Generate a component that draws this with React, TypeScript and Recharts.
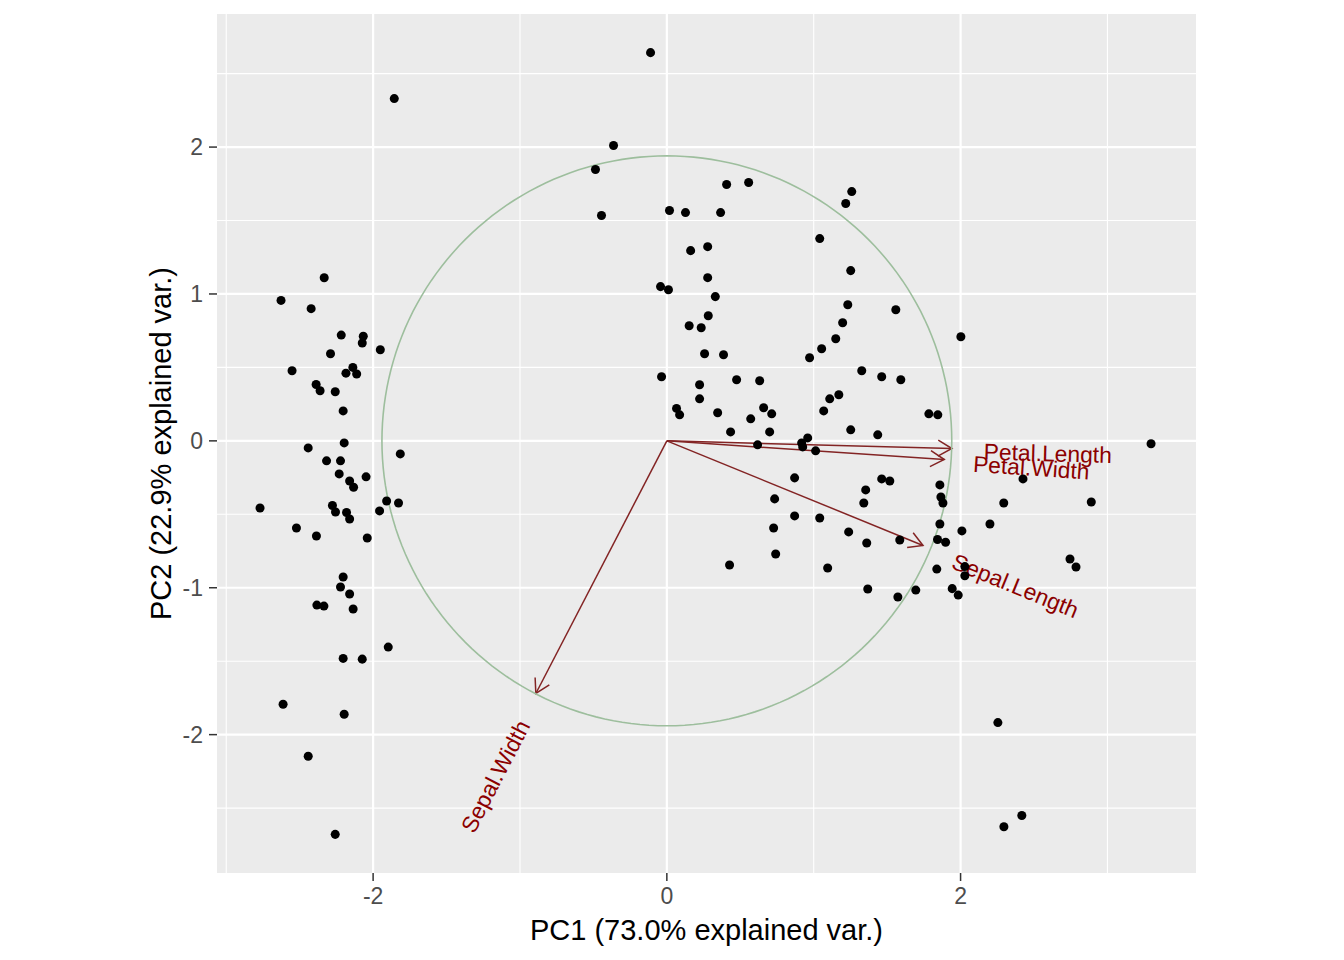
import React from 'react';
import { ScatterChart, Scatter, XAxis, YAxis, CartesianGrid, ReferenceLine } from 'recharts';

// ---- data ----
const PC1 = [
  -1.856, -2.333, -2.627, -2.422, -2.217, -2.067, -2.074, -1.951, -2.29, -2.552,
  -2.138, -2.185, -2.112, -2.388, -2.361, -2.258, -2.204, -2.197, -2.442, -1.815,
  -2.317, -2.222, -2.231, -2.16, -2.133, -2.048, -2.77, -2.277, -2.256, -2.181,
  -2.16, -1.956, -1.908, -1.827, -2.522, -2.386, -2.04, -2.204, -2.222, -2.16,
  -2.383, -2.335, -2.136, -1.897, -2.204, -2.074, -2.613, -2.197, -2.442, -2.258,
  -0.111, -0.363, -0.486, -0.445, 0.018, 0.127, 0.366, 0.407, 0.557, 1.259,
  1.218, 1.041, 1.252, 0.162, 0.278, 0.278, -0.043, 0.011, 0.33, 0.282,
  0.152, 0.234, 1.232, 1.197,
  1.559, 1.15, 1.054, 0.972, 0.257, 0.386, -0.036, 0.223, 0.475, 0.632,
  0.223, 0.066, 0.087, 0.346, 0.571, 0.659, 0.714, 0.434, 0.70, 0.618,
  1.327, 1.463, 1.593, 1.109, 1.171, 1.068, 1.252, 1.436, 1.784, 1.845,
  0.959, 0.918, 0.925, 1.013, 0.87, 0.734, 0.87, 1.041, 0.727, 0.741,
  0.427, 1.095, 1.238, 1.361, 1.586, 1.463, 1.518, 1.354, 1.341, 1.368,
  1.573, 1.695,
  2.002, 3.297, 1.859, 1.866, 1.88, 2.425, 2.294, 2.89, 1.859, 1.843,
  1.898, 2.009, 2.2, 1.838, 2.029, 2.029, 2.745, 2.786, 1.943, 1.984,
  2.254, 2.417, 2.295,
];
const PC2 = [
  2.33, 1.11, 0.956, 0.9, 0.72, 0.712, 0.666, 0.62, 0.593, 0.477,
  0.5, 0.461, 0.455, 0.384, 0.341, 0.334, 0.204, -0.014, -0.048, -0.089,
  -0.136, -0.136, -0.225, -0.273, -0.316, -0.245, -0.457, -0.44, -0.484, -0.488,
  -0.532, -0.477, -0.409, -0.423, -0.593, -0.648, -0.661, -0.927, -0.995, -1.043,
  -1.118, -1.125, -1.145, -1.404, -1.481, -1.486, -1.793, -1.861, -2.147, -2.679,
  2.643, 2.011, 1.847, 1.534, 1.568, 1.554, 1.554, 1.745, 1.759, 1.697,
  1.616, 1.377, 1.159, 1.295, 1.322, 1.111, 1.05, 1.029, 0.982, 0.852,
  0.784, 0.77, 0.927, 0.804,
  0.893, 0.695, 0.627, 0.566, 0.593, 0.586, 0.436, 0.382, 0.416, 0.409,
  0.286, 0.221, 0.177, 0.191, 0.15, 0.225, 0.184, 0.061, 0.061, -0.027,
  0.477, 0.436, 0.416, 0.286, 0.314, 0.204, 0.075, 0.041, 0.184, 0.177,
  0.02, -0.014, -0.041, -0.068, -0.252, -0.395, -0.511, -0.525, -0.593, -0.77,
  -0.845, -0.866, -0.62, -0.695, -0.675, -0.259, -0.273, -0.334, -0.423, -1.009,
  -1.063, -1.016,
  0.709, -0.02, -0.3, -0.382, -0.423, -0.259, -0.423, -0.416, -0.566, -0.672,
  -0.69, -0.613, -0.566, -0.873, -0.856, -0.918, -0.804, -0.859, -1.006, -1.05,
  -1.918, -2.551, -2.627,
];

const VAR_NAMES = ['Sepal.Length', 'Sepal.Width', 'Petal.Length', 'Petal.Width'];
const VAR_PC1 = [1.744, -0.892, 1.941, 1.889];
const VAR_PC2 = [-0.712, -1.72, -0.052, -0.127];
const CIRCLE_RADIUS = 1.94;

const X_TICKS = [-2, 0, 2];
const Y_TICKS = [-2, -1, 0, 1, 2];
const X_MINOR = [-3, -1, 1, 3];
const Y_MINOR = [-2.5, -1.5, -0.5, 0.5, 1.5, 2.5];
const X_DOMAIN = [-3.063, 3.603];
const Y_DOMAIN = [-2.942, 2.906];
const X_TITLE = 'PC1 (73.0% explained var.)';
const Y_TITLE = 'PC2 (22.9% explained var.)';

// ---- styling ----
const FONT = '"Liberation Sans", Arial, "DejaVu Sans", sans-serif';
const ARROW_COLOR = '#832424';
const LABEL_COLOR = '#8B0000';
const CIRCLE_COLOR = '#9DBE9D';
const LABEL_SIZE = 22.8;

const points = PC1.map((x, i) => ({ x, y: PC2[i] }));
const circleData = Array.from({ length: 201 }, (_, k) => {
  const t = (2 * Math.PI * k) / 200;
  return { x: CIRCLE_RADIUS * Math.cos(t), y: CIRCLE_RADIUS * Math.sin(t) };
});

function measure(text: string, size: number): number {
  try {
    const ctx = document.createElement('canvas').getContext('2d');
    if (ctx) {
      ctx.font = `${size}px "Liberation Sans", Arial, sans-serif`;
      return ctx.measureText(text).width;
    }
  } catch (e) {}
  return text.length * size * 0.47;
}

const arrowShape = (props: any) => {
  const { x1, y1, x2, y2 } = props;
  if ([x1, y1, x2, y2].some((v) => typeof v !== 'number' || isNaN(v))) return <g />;
  const ang = Math.atan2(y2 - y1, x2 - x1);
  const L = 16;
  const half = Math.PI / 6;
  const ax = x2 - L * Math.cos(ang - half);
  const ay = y2 - L * Math.sin(ang - half);
  const bx = x2 - L * Math.cos(ang + half);
  const by = y2 - L * Math.sin(ang + half);
  return (
    <g>
      <line x1={x1} y1={y1} x2={x2} y2={y2} stroke={ARROW_COLOR} strokeWidth={1.5} />
      <polyline points={`${ax},${ay} ${x2},${y2} ${bx},${by}`} fill="none" stroke={ARROW_COLOR} strokeWidth={1.5} />
    </g>
  );
};

const makeLabelShape = (name: string) => (props: any) => {
  const { x1, y1, x2, y2 } = props;
  if ([x1, y1, x2, y2].some((v) => typeof v !== 'number' || isNaN(v))) return <g />;
  const dx = x2 - x1;
  const dy = y2 - y1;
  const theta = (Math.atan(dy / dx) * 180) / Math.PI;
  const w = measure(name, LABEL_SIZE);
  const sgn = dx >= 0 ? 1 : -1;
  const along = sgn * 0.75 * w;
  return (
    <g transform={`translate(${x2},${y2}) rotate(${theta})`}>
      <text x={along} y={0} dy="0.45em" textAnchor="middle" fill={LABEL_COLOR} fontSize={LABEL_SIZE} fontFamily={FONT}>
        {name}
      </text>
    </g>
  );
};

const XTitle = (props: any) => {
  const vb = props.viewBox || { x: 209, y: 865, width: 979, height: 75 };
  return (
    <text x={vb.x + vb.width / 2} y={vb.y + 67} textAnchor="middle" fill="#000000" fontSize={29} fontFamily={FONT}>
      {X_TITLE}
    </text>
  );
};

const YTitle = (props: any) => {
  const vb = props.viewBox || { x: 0, y: 6, width: 209, height: 859 };
  const cx = 163;
  const cy = vb.y + vb.height / 2;
  return (
    <text x={cx} y={cy} transform={`rotate(-90, ${cx}, ${cy})`} textAnchor="middle" fill="#000000" fontSize={29} fontFamily={FONT}>
      {Y_TITLE}
    </text>
  );
};

export default function App() {
  return (
    <div style={{ width: 1328, height: 940, fontFamily: FONT, background: '#FFFFFF' }}>
      <ScatterChart width={1328} height={940} margin={{ top: 6, right: 140, bottom: 0, left: 0 }}>
        <CartesianGrid
          fill="#EBEBEB"
          stroke="#FFFFFF"
          strokeWidth={1.1}
          horizontalValues={Y_MINOR}
          verticalValues={X_MINOR}
        />
        <CartesianGrid stroke="#FFFFFF" strokeWidth={2.2} horizontalValues={Y_TICKS} verticalValues={X_TICKS} />
        <XAxis
          type="number"
          dataKey="x"
          domain={X_DOMAIN}
          allowDataOverflow
          ticks={X_TICKS}
          interval={0}
          axisLine={false}
          tickSize={8}
          tickMargin={7}
          tickLine={{ stroke: '#333333', strokeWidth: 1.5 }}
          tick={{ fill: '#4D4D4D', fontSize: 23 }}
          height={75}
          label={<XTitle />}
        />
        <YAxis
          type="number"
          dataKey="y"
          domain={Y_DOMAIN}
          allowDataOverflow
          ticks={Y_TICKS}
          interval={0}
          axisLine={false}
          tickSize={8}
          tickMargin={6}
          tickLine={{ stroke: '#333333', strokeWidth: 1.5 }}
          tick={{ fill: '#4D4D4D', fontSize: 23 }}
          width={209}
          label={<YTitle />}
        />
        <Scatter
          data={circleData}
          line={{ stroke: CIRCLE_COLOR, strokeWidth: 1.6 }}
          lineType="joint"
          shape={() => <g />}
          isAnimationActive={false}
          legendType="none"
        />
        {VAR_NAMES.map((n, i) => (
          <ReferenceLine
            key={'arrow-' + n}
            segment={[{ x: 0, y: 0 }, { x: VAR_PC1[i], y: VAR_PC2[i] }]}
            ifOverflow="visible"
            shape={arrowShape}
          />
        ))}
        <Scatter data={points} fill="#000000" isAnimationActive={false} legendType="none" />
        {VAR_NAMES.map((n, i) => (
          <ReferenceLine
            key={'label-' + n}
            segment={[{ x: 0, y: 0 }, { x: VAR_PC1[i], y: VAR_PC2[i] }]}
            ifOverflow="visible"
            shape={makeLabelShape(n)}
          />
        ))}
      </ScatterChart>
    </div>
  );
}
